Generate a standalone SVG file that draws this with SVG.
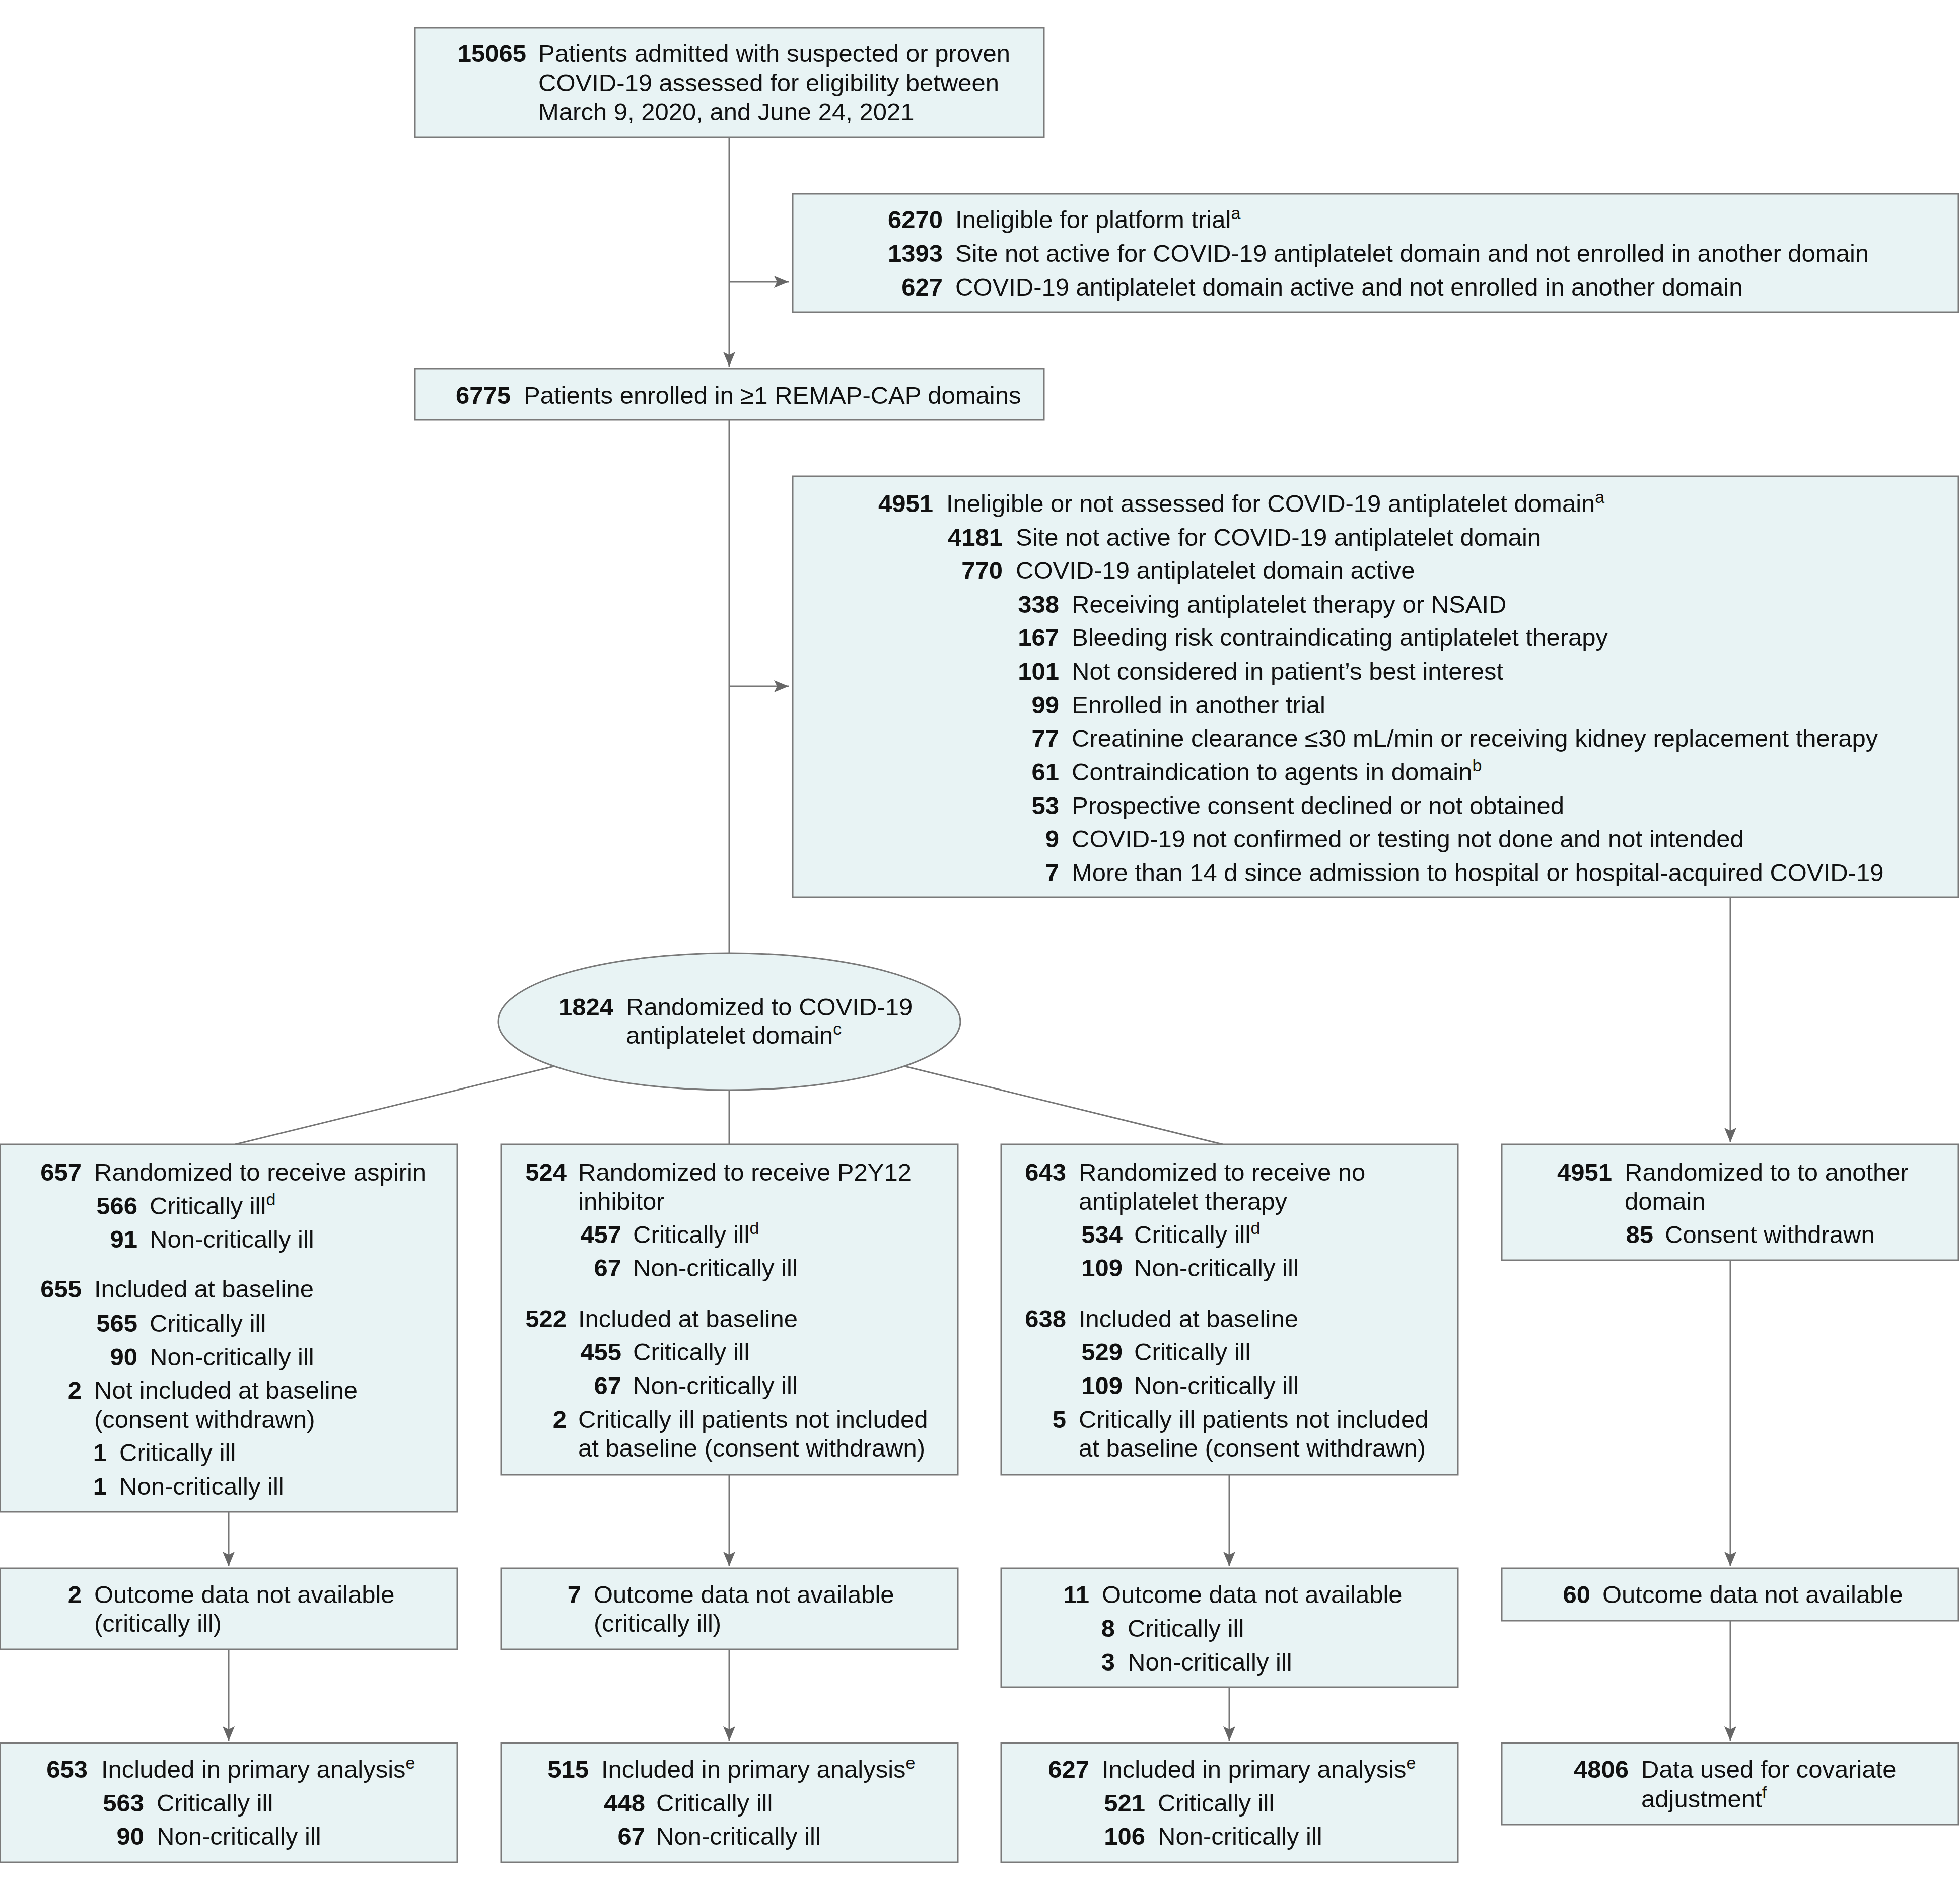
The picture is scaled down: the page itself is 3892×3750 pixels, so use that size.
<svg xmlns="http://www.w3.org/2000/svg" width="3892" height="3750" viewBox="0 0 3892 3750">
<defs>
<style>
.box{fill:#e8f3f4;stroke:#7a7a7a;stroke-width:3}
.edge{stroke:#777;stroke-width:3;fill:none}
text{font-family:"Liberation Sans",Arial,sans-serif;font-size:49px;fill:#111}
.n{font-weight:bold;text-anchor:end}
.s{font-size:34px}
</style>
<marker id="ah" markerUnits="userSpaceOnUse" markerWidth="32" markerHeight="28" refX="29" refY="12" orient="auto">
<path d="M29,12 L0,0 L6,12 L0,24 Z" fill="#666"/>
</marker>
</defs>
<rect width="3892" height="3750" fill="#fff"/>
<g id="connectors">
<line class="edge" x1="1448" y1="273" x2="1448" y2="728" marker-end="url(#ah)"/>
<line class="edge" x1="1448" y1="560" x2="1566" y2="560" marker-end="url(#ah)"/>
<line class="edge" x1="1448" y1="834" x2="1448" y2="1893"/>
<line class="edge" x1="1448" y1="1363" x2="1566" y2="1363" marker-end="url(#ah)"/>
<line class="edge" x1="1100" y1="2118" x2="467" y2="2273"/>
<line class="edge" x1="1448" y1="2165" x2="1448" y2="2273"/>
<line class="edge" x1="1797" y1="2118" x2="2428" y2="2273"/>
<line class="edge" x1="3436" y1="1782" x2="3436" y2="2269" marker-end="url(#ah)"/>
<line class="edge" x1="454" y1="3003" x2="454" y2="3111" marker-end="url(#ah)"/>
<line class="edge" x1="1448" y1="2929" x2="1448" y2="3111" marker-end="url(#ah)"/>
<line class="edge" x1="2441" y1="2929" x2="2441" y2="3111" marker-end="url(#ah)"/>
<line class="edge" x1="3436" y1="2503" x2="3436" y2="3111" marker-end="url(#ah)"/>
<line class="edge" x1="454" y1="3276" x2="454" y2="3458" marker-end="url(#ah)"/>
<line class="edge" x1="1448" y1="3276" x2="1448" y2="3458" marker-end="url(#ah)"/>
<line class="edge" x1="2441" y1="3351" x2="2441" y2="3458" marker-end="url(#ah)"/>
<line class="edge" x1="3436" y1="3219" x2="3436" y2="3458" marker-end="url(#ah)"/>
</g>
<g id="n1">
<rect class="box" x="824" y="55" width="1249" height="218"/>
<text class="n" x="1045" y="123">15065</text>
<text x="1069" y="123">Patients admitted with suspected or proven</text>
<text x="1069" y="181">COVID-19 assessed for eligibility between</text>
<text x="1069" y="239">March 9, 2020, and June 24, 2021</text>
</g>
<g id="n2">
<rect class="box" x="1574" y="385" width="2315" height="235"/>
<text class="n" x="1872" y="453">6270</text>
<text x="1897" y="453">Ineligible for platform trial<tspan class="s" dy="-18">a</tspan></text>
<text class="n" x="1872" y="520">1393</text>
<text x="1897" y="520">Site not active for COVID-19 antiplatelet domain and not enrolled in another domain</text>
<text class="n" x="1872" y="587">627</text>
<text x="1897" y="587">COVID-19 antiplatelet domain active and not enrolled in another domain</text>
</g>
<g id="n3">
<rect class="box" x="824" y="732" width="1249" height="102"/>
<text class="n" x="1014" y="802">6775</text>
<text x="1040" y="802">Patients enrolled in ≥1 REMAP-CAP domains</text>
</g>
<g id="n4">
<rect class="box" x="1574" y="946" width="2315" height="836"/>
<text class="n" x="1853" y="1017">4951</text>
<text x="1879" y="1017">Ineligible or not assessed for COVID-19 antiplatelet domain<tspan class="s" dy="-18">a</tspan></text>
<text class="n" x="1991" y="1084">4181</text>
<text x="2017" y="1084">Site not active for COVID-19 antiplatelet domain</text>
<text class="n" x="1991" y="1150">770</text>
<text x="2017" y="1150">COVID-19 antiplatelet domain active</text>
<text class="n" x="2103" y="1217">338</text>
<text x="2128" y="1217">Receiving antiplatelet therapy or NSAID</text>
<text class="n" x="2103" y="1283">167</text>
<text x="2128" y="1283">Bleeding risk contraindicating antiplatelet therapy</text>
<text class="n" x="2103" y="1350">101</text>
<text x="2128" y="1350">Not considered in patient’s best interest</text>
<text class="n" x="2103" y="1417">99</text>
<text x="2128" y="1417">Enrolled in another trial</text>
<text class="n" x="2103" y="1483">77</text>
<text x="2128" y="1483">Creatinine clearance ≤30 mL/min or receiving kidney replacement therapy</text>
<text class="n" x="2103" y="1550">61</text>
<text x="2128" y="1550">Contraindication to agents in domain<tspan class="s" dy="-18">b</tspan></text>
<text class="n" x="2103" y="1617">53</text>
<text x="2128" y="1617">Prospective consent declined or not obtained</text>
<text class="n" x="2103" y="1683">9</text>
<text x="2128" y="1683">COVID-19 not confirmed or testing not done and not intended</text>
<text class="n" x="2103" y="1750">7</text>
<text x="2128" y="1750">More than 14 d since admission to hospital or hospital-acquired COVID-19</text>
</g>
<g id="n5">
<ellipse class="box" cx="1448" cy="2029" rx="459" ry="136"/>
<text class="n" x="1218" y="2017">1824</text>
<text x="1243" y="2017">Randomized to COVID-19</text>
<text x="1243" y="2073">antiplatelet domain<tspan class="s" dy="-18">c</tspan></text>
</g>
<g id="a1">
<rect class="box" x="0" y="2273" width="908" height="730"/>
<text class="n" x="162" y="2345">657</text>
<text x="187" y="2345">Randomized to receive aspirin</text>
<text class="n" x="273" y="2412">566</text>
<text x="297" y="2412">Critically ill<tspan class="s" dy="-18">d</tspan></text>
<text class="n" x="273" y="2478">91</text>
<text x="297" y="2478">Non-critically ill</text>
<text class="n" x="162" y="2577">655</text>
<text x="187" y="2577">Included at baseline</text>
<text class="n" x="273" y="2645">565</text>
<text x="297" y="2645">Critically ill</text>
<text class="n" x="273" y="2712">90</text>
<text x="297" y="2712">Non-critically ill</text>
<text class="n" x="162" y="2778">2</text>
<text x="187" y="2778">Not included at baseline</text>
<text x="187" y="2836">(consent withdrawn)</text>
<text class="n" x="212" y="2902">1</text>
<text x="237" y="2902">Critically ill</text>
<text class="n" x="212" y="2969">1</text>
<text x="237" y="2969">Non-critically ill</text>
</g>
<g id="b1">
<rect class="box" x="995" y="2273" width="907" height="656"/>
<text class="n" x="1125" y="2345">524</text>
<text x="1148" y="2345">Randomized to receive P2Y12</text>
<text x="1148" y="2403">inhibitor</text>
<text class="n" x="1234" y="2469">457</text>
<text x="1257" y="2469">Critically ill<tspan class="s" dy="-18">d</tspan></text>
<text class="n" x="1234" y="2535">67</text>
<text x="1257" y="2535">Non-critically ill</text>
<text class="n" x="1125" y="2636">522</text>
<text x="1148" y="2636">Included at baseline</text>
<text class="n" x="1234" y="2702">455</text>
<text x="1257" y="2702">Critically ill</text>
<text class="n" x="1234" y="2769">67</text>
<text x="1257" y="2769">Non-critically ill</text>
<text class="n" x="1125" y="2836">2</text>
<text x="1148" y="2836">Critically ill patients not included</text>
<text x="1148" y="2893">at baseline (consent withdrawn)</text>
</g>
<g id="c1">
<rect class="box" x="1988" y="2273" width="907" height="656"/>
<text class="n" x="2117" y="2345">643</text>
<text x="2142" y="2345">Randomized to receive no</text>
<text x="2142" y="2403">antiplatelet therapy</text>
<text class="n" x="2229" y="2469">534</text>
<text x="2252" y="2469">Critically ill<tspan class="s" dy="-18">d</tspan></text>
<text class="n" x="2229" y="2535">109</text>
<text x="2252" y="2535">Non-critically ill</text>
<text class="n" x="2117" y="2636">638</text>
<text x="2142" y="2636">Included at baseline</text>
<text class="n" x="2229" y="2702">529</text>
<text x="2252" y="2702">Critically ill</text>
<text class="n" x="2229" y="2769">109</text>
<text x="2252" y="2769">Non-critically ill</text>
<text class="n" x="2117" y="2836">5</text>
<text x="2142" y="2836">Critically ill patients not included</text>
<text x="2142" y="2893">at baseline (consent withdrawn)</text>
</g>
<g id="d1">
<rect class="box" x="2982" y="2273" width="907" height="230"/>
<text class="n" x="3201" y="2345">4951</text>
<text x="3226" y="2345">Randomized to to another</text>
<text x="3226" y="2403">domain</text>
<text class="n" x="3283" y="2469">85</text>
<text x="3306" y="2469">Consent withdrawn</text>
</g>
<g id="a2">
<rect class="box" x="0" y="3115" width="908" height="161"/>
<text class="n" x="162" y="3184">2</text>
<text x="187" y="3184">Outcome data not available</text>
<text x="187" y="3241">(critically ill)</text>
</g>
<g id="b2">
<rect class="box" x="995" y="3115" width="907" height="161"/>
<text class="n" x="1154" y="3184">7</text>
<text x="1179" y="3184">Outcome data not available</text>
<text x="1179" y="3241">(critically ill)</text>
</g>
<g id="c2">
<rect class="box" x="1988" y="3115" width="907" height="236"/>
<text class="n" x="2163" y="3184">11</text>
<text x="2188" y="3184">Outcome data not available</text>
<text class="n" x="2214" y="3251">8</text>
<text x="2239" y="3251">Critically ill</text>
<text class="n" x="2214" y="3318">3</text>
<text x="2239" y="3318">Non-critically ill</text>
</g>
<g id="d2">
<rect class="box" x="2982" y="3115" width="907" height="104"/>
<text class="n" x="3158" y="3184">60</text>
<text x="3182" y="3184">Outcome data not available</text>
</g>
<g id="a3">
<rect class="box" x="0" y="3462" width="908" height="237"/>
<text class="n" x="174" y="3531">653</text>
<text x="201" y="3531">Included in primary analysis<tspan class="s" dy="-18">e</tspan></text>
<text class="n" x="286" y="3598">563</text>
<text x="311" y="3598">Critically ill</text>
<text class="n" x="286" y="3664">90</text>
<text x="311" y="3664">Non-critically ill</text>
</g>
<g id="b3">
<rect class="box" x="995" y="3462" width="907" height="237"/>
<text class="n" x="1169" y="3531">515</text>
<text x="1194" y="3531">Included in primary analysis<tspan class="s" dy="-18">e</tspan></text>
<text class="n" x="1281" y="3598">448</text>
<text x="1303" y="3598">Critically ill</text>
<text class="n" x="1281" y="3664">67</text>
<text x="1303" y="3664">Non-critically ill</text>
</g>
<g id="c3">
<rect class="box" x="1988" y="3462" width="907" height="237"/>
<text class="n" x="2163" y="3531">627</text>
<text x="2188" y="3531">Included in primary analysis<tspan class="s" dy="-18">e</tspan></text>
<text class="n" x="2274" y="3598">521</text>
<text x="2299" y="3598">Critically ill</text>
<text class="n" x="2274" y="3664">106</text>
<text x="2299" y="3664">Non-critically ill</text>
</g>
<g id="d3">
<rect class="box" x="2982" y="3462" width="907" height="162"/>
<text class="n" x="3234" y="3531">4806</text>
<text x="3259" y="3531">Data used for covariate</text>
<text x="3259" y="3590">adjustment<tspan class="s" dy="-18">f</tspan></text>
</g>
</svg>
